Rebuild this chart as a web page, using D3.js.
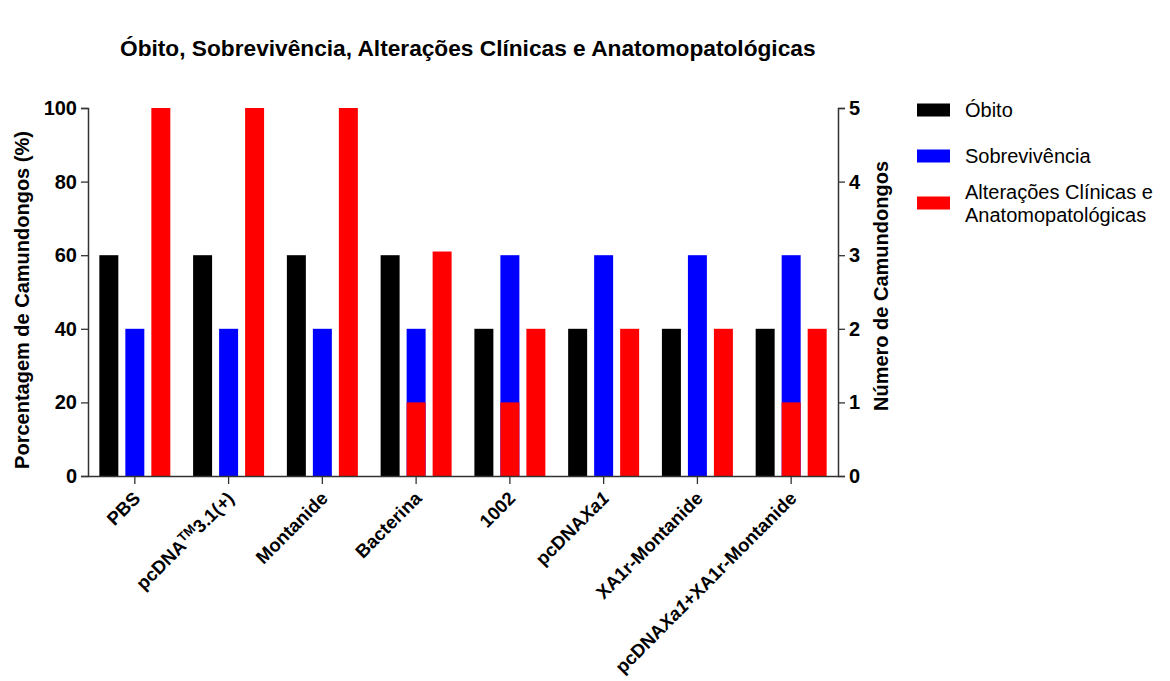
<!DOCTYPE html>
<html>
<head>
<meta charset="utf-8">
<script src="https://cdn.jsdelivr.net/npm/d3@7"></script>
<style>
  body { margin: 0; background: #fff; }
  text { font-family: Arial, "Liberation Sans", sans-serif; }
</style>
</head>
<body>
<div id="chart"></div>
<script>
// data
const groups = ["PBS", "pcDNA3.1", "Montanide", "Bacterina", "1002", "pcDNAXa1", "XA1r-Montanide", "pcDNAXa1+XA1r-Montanide"];
const series = ["Óbito", "Sobrevivência", "Alterações"];
const obito = [60, 60, 60, 60, 40, 40, 40, 40];
const sobrevivencia = [40, 40, 40, 40, 60, 60, 60, 60];
const alteracoes = [100, 100, 100, 61, 40, 40, 40, 40];
// red part drawn over the survival bar
const alteracoesSobrev = [0, 0, 0, 20, 20, 0, 0, 20];
const yTicks = [0, 20, 40, 60, 80, 100];
const rightTicks = [0, 1, 2, 3, 4, 5];
const colors = ["#000000", "#0000ff", "#ff0000"];

const width = 1170, height = 681;
const margin = { top: 108, left: 88, right: 332, bottom: 205 };

const svg = d3.select("#chart").append("svg")
  .attr("width", width)
  .attr("height", height);

const x0 = d3.scaleBand()
  .domain(groups)
  .range([margin.left, width - margin.right])
  .paddingInner(0.243)
  .paddingOuter(0.121);

const x1 = d3.scaleBand()
  .domain(series)
  .range([0, x0.bandwidth()])
  .paddingInner(0.27);

const y = d3.scaleLinear().domain([0, 100]).range([height - margin.bottom, margin.top]);
const yRight = d3.scaleLinear().domain([0, 5]).range([height - margin.bottom, margin.top]);

// bars
const values = [obito, sobrevivencia, alteracoes];
series.forEach((s, si) => {
  svg.append("g").selectAll("rect")
    .data(groups)
    .join("rect")
    .attr("x", g => x0(g) + x1(s))
    .attr("y", (g, i) => y(values[si][i]))
    .attr("width", x1.bandwidth())
    .attr("height", (g, i) => y(0) - y(values[si][i]))
    .attr("fill", colors[si]);
});

svg.append("g").selectAll("rect")
  .data(groups)
  .join("rect")
  .attr("x", g => x0(g) + x1(series[1]))
  .attr("y", (g, i) => y(alteracoesSobrev[i]))
  .attr("width", x1.bandwidth())
  .attr("height", (g, i) => y(0) - y(alteracoesSobrev[i]))
  .attr("fill", colors[2]);

// axes
const axisColor = "#333";
const yAxis = svg.append("g")
  .attr("transform", `translate(${margin.left},0)`)
  .call(d3.axisLeft(y).tickValues(yTicks).tickSize(7).tickPadding(4));

const rAxis = svg.append("g")
  .attr("transform", `translate(${width - margin.right},0)`)
  .call(d3.axisRight(yRight).tickValues(rightTicks).tickFormat(d3.format("d")).tickSize(7).tickPadding(4));

const xAxis = svg.append("g")
  .attr("transform", `translate(0,${height - margin.bottom})`)
  .call(d3.axisBottom(x0).tickSize(8).tickSizeOuter(0).tickFormat(""));

[yAxis, rAxis, xAxis].forEach(a => {
  a.select(".domain").attr("stroke", axisColor).attr("stroke-width", 1.5);
  a.selectAll(".tick line").attr("stroke", axisColor).attr("stroke-width", 1.3);
  a.selectAll(".tick text")
    .attr("fill", "#000")
    .style("font-size", "20px")
    .style("font-weight", "bold")
    .style("font-family", "Arial, 'Liberation Sans', sans-serif");
});

// x labels, rotated
const xLabels = svg.append("g");
groups.forEach(g => {
  const t = xLabels.append("text")
    .attr("transform", `translate(${x0(g) + x0.bandwidth() / 2 + 2},${height - margin.bottom + 19}) rotate(-45)`)
    .attr("text-anchor", "end")
    .attr("dy", "0.35em")
    .style("font-size", "18.5px")
    .style("font-weight", "bold");
  if (g === "pcDNA3.1") {
    t.append("tspan").text("pcDNA");
    t.append("tspan").text("TM").attr("dy", "-0.5em").style("font-size", "13px");
    t.append("tspan").text("3.1(+)").attr("dy", "0.35em");
  } else if (g.startsWith("pcDNAXa1")) {
    t.append("tspan").text("pcDNA");
    t.append("tspan").text("Xa1").style("font-style", "italic");
    t.append("tspan").text(g.slice(8));
  } else {
    t.text(g);
  }
});

// axis titles
svg.append("text")
  .attr("transform", `translate(22,300) rotate(-90)`)
  .attr("text-anchor", "middle")
  .attr("dy", "0.35em")
  .style("font-size", "20px")
  .style("font-weight", "bold")
  .text("Porcentagem de Camundongos (%)");

svg.append("text")
  .attr("transform", `translate(881,286) rotate(-90)`)
  .attr("text-anchor", "middle")
  .attr("dy", "0.35em")
  .style("font-size", "20px")
  .style("font-weight", "bold")
  .text("Número de Camundongos");

// title
svg.append("text")
  .attr("x", 120)
  .attr("y", 56)
  .style("font-size", "22.7px")
  .style("font-weight", "bold")
  .text("Óbito, Sobrevivência, Alterações Clínicas e Anatomopatológicas");

// legend
const legend = [
  { lines: ["Óbito"], color: colors[0], y: 110 },
  { lines: ["Sobrevivência"], color: colors[1], y: 156 },
  { lines: ["Alterações Clínicas e", "Anatomopatológicas"], color: colors[2], y: 203 }
];
legend.forEach(l => {
  svg.append("rect")
    .attr("x", 917).attr("y", l.y - 6.5)
    .attr("width", 33).attr("height", 13)
    .attr("fill", l.color);
  const t = svg.append("text")
    .attr("y", l.y - (l.lines.length - 1) * 11.5)
    .style("font-size", "20px");
  l.lines.forEach((line, i) => {
    t.append("tspan").attr("x", 965).attr("dy", i === 0 ? "0.35em" : "1.15em").text(line);
  });
});
</script>
</body>
</html>
